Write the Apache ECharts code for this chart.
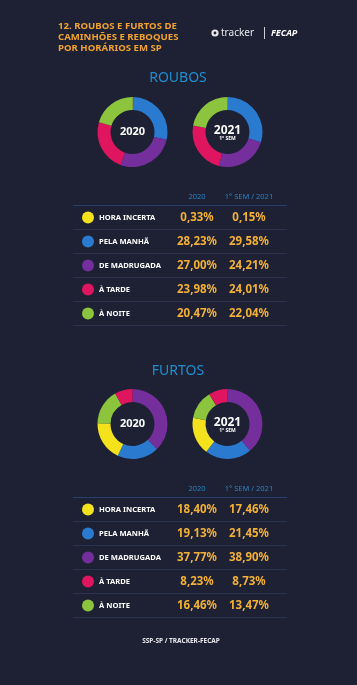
<!DOCTYPE html>
<html><head><meta charset="utf-8">
<script src="https://cdn.jsdelivr.net/npm/echarts@6/dist/echarts.min.js"></script>
<style>html,body{margin:0;padding:0;background:#1d2133;}#c{width:357px;height:685px;}</style>
</head><body><div id="c"></div>
<script>
const titleLines = ['12. ROUBOS E FURTOS DE', 'CAMINHÕES E REBOQUES', 'POR HORÁRIOS EM SP'];
const sectionTitles = ['ROUBOS', 'FURTOS'];
const categories = ['HORA INCERTA', 'PELA MANHÃ', 'DE MADRUGADA', 'À TARDE', 'À NOITE'];
const colors = ['#f3e21c', '#2a7bd0', '#742f9c', '#df1560', '#8cc43e'];
const columnHeaders = ['2020', '1° SEM / 2021'];
const roubos2020 = [0.33, 28.23, 27.00, 23.98, 20.47];
const roubos2021 = [0.15, 29.58, 24.21, 24.01, 22.04];
const furtos2020 = [18.40, 19.13, 37.77, 8.23, 16.46];
const furtos2021 = [17.46, 21.45, 38.90, 8.73, 13.47];
const roubosPieOrder = [0, 1, 2, 3, 4];
const furtosPieOrder = [2, 1, 0, 4, 3];
const source = 'SSP-SP / TRACKER-FECAP';

const FONT = '"Noto Sans", "Open Sans", sans-serif';
const fmt = v => v.toFixed(2).replace('.', ',') + '%';

function pie(cx, cy, values, order) {
  return {
    type: 'pie', silent: true, center: [cx, cy], radius: [22, 35],
    startAngle: 90, clockwise: true, animation: false,
    label: { show: false }, labelLine: { show: false },
    itemStyle: { borderWidth: 0 },
    data: order.map(i => ({ name: categories[i], value: values[i], itemStyle: { color: colors[i] } }))
  };
}

const graphics = [];
function txt(x, y, s, style) {
  graphics.push({ type: 'text', x: x, y: y, silent: true,
    style: Object.assign({ text: s, fontFamily: FONT, verticalAlign: 'middle' }, style) });
}
function line(x1, x2, y, color) {
  graphics.push({ type: 'line', silent: true, shape: { x1: x1, y1: y, x2: x2, y2: y },
    style: { stroke: color, lineWidth: 1 } });
}

// title
titleLines.forEach((t, i) => txt(58, 26 + i * 11.3, t, { fill: '#f0a22e', fontSize: 9.6, fontWeight: 'bold' }));
// logo
graphics.push({ type: 'circle', silent: true, shape: { cx: 215, cy: 33, r: 3.6 }, style: { fill: '#e8e8ec' } });
graphics.push({ type: 'circle', silent: true, shape: { cx: 215, cy: 33, r: 1.4 }, style: { fill: '#1d2133' } });
txt(221, 33, 'tracker', { fill: '#e8e8ec', fontSize: 10 });
graphics.push({ type: 'line', silent: true, shape: { x1: 264.5, y1: 27, x2: 264.5, y2: 39 }, style: { stroke: '#cfd0d6', lineWidth: 1 } });
txt(271, 33, 'FECAP', { fill: '#ffffff', fontSize: 9, fontWeight: 'bold', fontStyle: 'italic' });

function section(yTitle, yPie, yTable, title, a, b, order) {
  txt(178, yTitle, title, { fill: '#1f8fd0', fontSize: 14, align: 'center' });
  txt(132.5, yPie, '2020', { fill: '#ffffff', fontSize: 11, fontWeight: 'bold', align: 'center' });
  txt(227.5, yPie - 1.5, '2021', { fill: '#ffffff', fontSize: 12, fontWeight: 'bold', align: 'center' });
  txt(227.5, yPie + 7, '1° SEM', { fill: '#ffffff', fontSize: 5, fontWeight: 'bold', align: 'center' });
  txt(197, yTable, columnHeaders[0], { fill: '#2a82c2', fontSize: 7.5, align: 'center' });
  txt(249, yTable, columnHeaders[1], { fill: '#2a82c2', fontSize: 7.5, align: 'center' });
  for (let r = 0; r <= categories.length; r++) {
    line(73, 287, yTable + 8.5 + r * 24, r === 0 ? '#27406a' : '#2a3450');
  }
  categories.forEach((c, i) => {
    const y = yTable + 20.5 + i * 24;
    graphics.push({ type: 'circle', silent: true, shape: { cx: 88, cy: y, r: 6 }, style: { fill: colors[i] } });
    txt(99, y, c, { fill: '#ffffff', fontSize: 7.6, fontWeight: 'bold' });
    txt(197, y, fmt(a[i]), { fill: '#f2b035', fontSize: 11.5, fontWeight: 'bold', align: 'center' });
    txt(249, y, fmt(b[i]), { fill: '#f2b035', fontSize: 11.5, fontWeight: 'bold', align: 'center' });
  });
  return [pie(132.5, yPie, a, order), pie(227.5, yPie, b, order)];
}

const series = [].concat(
  section(78, 132, 197, sectionTitles[0], roubos2020, roubos2021, roubosPieOrder),
  section(371, 424, 489, sectionTitles[1], furtos2020, furtos2021, furtosPieOrder)
);
txt(181, 641, source, { fill: '#e8e8ee', fontSize: 6.5, fontWeight: 'bold', align: 'center' });

const chart = echarts.init(document.getElementById('c'), null, { renderer: 'canvas' });
chart.setOption({ backgroundColor: '#1d2133', animation: false, series: series, graphic: { elements: graphics } });
</script></body></html>
